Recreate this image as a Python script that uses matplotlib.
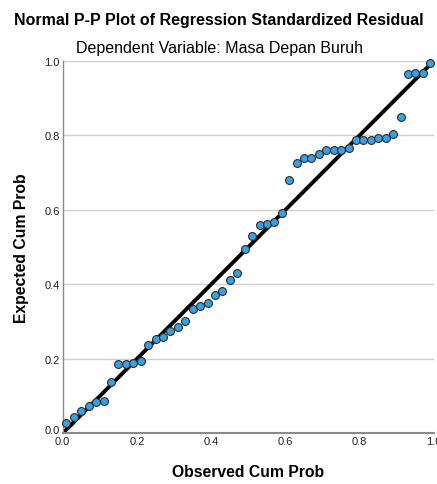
import matplotlib
matplotlib.use("Agg")
import matplotlib.pyplot as plt
import matplotlib.transforms as mtransforms

plt.rcParams['font.family'] = ['Liberation Sans', 'DejaVu Sans']

# observed cum prob (x) / expected cum prob (y)
observed = [0.01, 0.03, 0.05, 0.07, 0.09, 0.11, 0.13, 0.15, 0.17, 0.19,
            0.21, 0.23, 0.25, 0.27, 0.29, 0.31, 0.33, 0.35, 0.37, 0.39,
            0.41, 0.43, 0.45, 0.47, 0.49, 0.51, 0.53, 0.55, 0.57, 0.59,
            0.61, 0.63, 0.65, 0.67, 0.69, 0.71, 0.73, 0.75, 0.77, 0.79,
            0.81, 0.83, 0.85, 0.87, 0.89, 0.91, 0.93, 0.95, 0.97, 0.99]
expected = [0.027, 0.045, 0.061, 0.072, 0.083, 0.087, 0.137, 0.187, 0.187, 0.189,
            0.194, 0.238, 0.253, 0.259, 0.275, 0.284, 0.302, 0.333, 0.342, 0.349,
            0.370, 0.382, 0.411, 0.430, 0.495, 0.530, 0.560, 0.563, 0.566, 0.592,
            0.679, 0.726, 0.738, 0.738, 0.749, 0.760, 0.760, 0.760, 0.766, 0.788,
            0.788, 0.788, 0.792, 0.792, 0.803, 0.848, 0.964, 0.967, 0.967, 0.993]
ticks = [0.0, 0.2, 0.4, 0.6, 0.8, 1.0]
tick_labels = ['0.0', '0.2', '0.4', '0.6', '0.8', '1.0']

fig = plt.figure(figsize=(4.37, 4.85), dpi=100)
ax = fig.add_axes([0.1435, 0.1045, 0.8497, 0.7683])

ax.set_xlim(0, 1)
ax.set_ylim(0, 1)
ax.set_xticks(ticks)
ax.set_xticklabels(tick_labels)
ax.set_yticks(ticks)
ax.set_yticklabels(tick_labels)
ax.tick_params(length=0, labelsize=8, pad=2, colors='#222222')

# nudge the y "0.0" up a bit so it doesn't sit on the x "0.0"
lab0 = ax.get_yticklabels()[0]
lab0.set_transform(lab0.get_transform() +
                   mtransforms.ScaledTranslation(0, 3 / 72, fig.dpi_scale_trans))

for t in ticks[1:]:
    ax.axhline(t, color='#cfcfcf', lw=1, zorder=0)

for s in ['top', 'right']:
    ax.spines[s].set_visible(False)
ax.spines['left'].set_color('#8a8a8a')
ax.spines['bottom'].set_color('#8a8a8a')
ax.spines['left'].set_linewidth(1)
ax.spines['bottom'].set_linewidth(1.5)

ax.plot([0, 1], [0, 1], color='black', lw=2.8, zorder=2, solid_capstyle='butt')
ax.scatter(observed, expected, s=32, c='#3aa0e4', edgecolors='#2b2b2b',
           linewidths=0.8, zorder=3, clip_on=False)

ax.set_xlabel('Observed Cum Prob', fontsize=11.3, fontweight='bold', labelpad=13)
ax.set_ylabel('Expected Cum Prob', fontsize=11.3, fontweight='bold', labelpad=11)

fig.text(0.5, 0.958, 'Normal P-P Plot of Regression Standardized Residual',
         ha='center', va='center', fontsize=11.5, fontweight='bold')
fig.text(0.502, 0.901, 'Dependent Variable: Masa Depan Buruh',
         ha='center', va='center', fontsize=11.5, fontweight='medium')

fig.savefig('out.png', dpi=100)
